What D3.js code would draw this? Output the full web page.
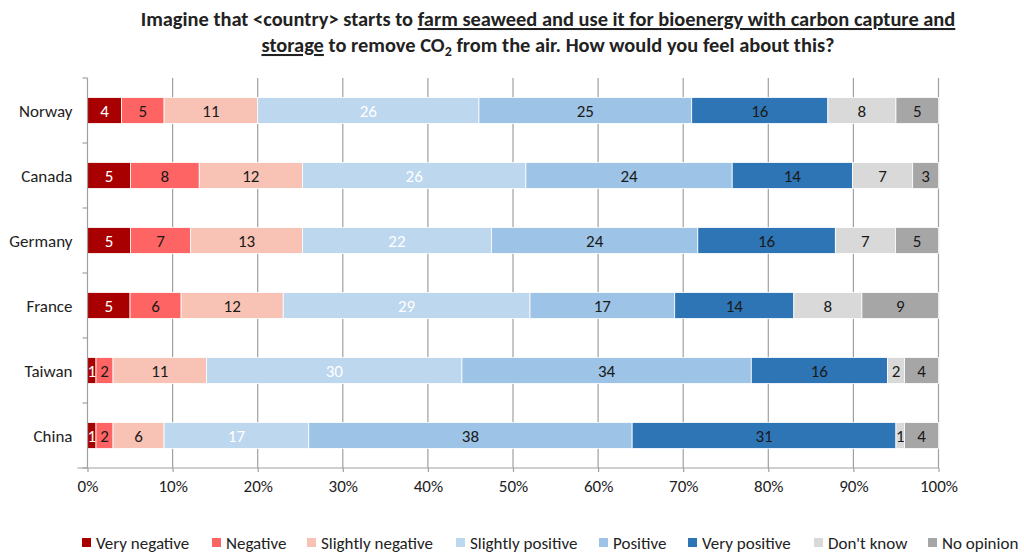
<!DOCTYPE html>
<html>
<head>
<meta charset="utf-8">
<script src="https://cdn.jsdelivr.net/npm/d3@7"></script>
<style>
  html, body { margin: 0; padding: 0; background: #fff; }
  svg { display: block; }
  text { font-family: Carlito, Lato, "Open Sans", sans-serif; fill: #222; }
</style>
</head>
<body>
<svg id="chart" width="1024" height="554"></svg>
<script>
// Survey responses (percent of respondents) per country
const countries = ["Norway", "Canada", "Germany", "France", "Taiwan", "China"];
const responses = ["Very negative", "Negative", "Slightly negative", "Slightly positive",
                   "Positive", "Very positive", "Don't know", "No opinion"];
const veryNegative     = [4, 5, 5, 5, 1, 1];
const negative         = [5, 8, 7, 6, 2, 2];
const slightlyNegative = [11, 12, 13, 12, 11, 6];
const slightlyPositive = [26, 26, 22, 29, 30, 17];
const positive         = [25, 24, 24, 17, 34, 38];
const veryPositive     = [16, 14, 16, 14, 16, 31];
const dontKnow         = [8, 7, 7, 8, 2, 1];
const noOpinion        = [5, 3, 5, 9, 4, 4];
const xTicks = [0, 0.1, 0.2, 0.3, 0.4, 0.5, 0.6, 0.7, 0.8, 0.9, 1];

const seriesValues = [veryNegative, negative, slightlyNegative, slightlyPositive,
                      positive, veryPositive, dontKnow, noOpinion];
const colors = ["#A80000", "#FF6464", "#F8C3B5", "#BDD7EE", "#9DC3E6", "#2E75B6", "#D9D9D9", "#A6A6A6"];
const whiteLabel = ["Very negative", "Slightly positive"];

const rows = countries.map((c, i) => {
  const r = { country: c };
  responses.forEach((k, j) => r[k] = seriesValues[j][i]);
  return r;
});

const svg = d3.select("#chart");
const margin = { left: 87.5, right: 85.5, top: 78, bottom: 86 };
const W = 1024, H = 554;
const FS = "17px";

const x = d3.scaleLinear().domain([0, 1]).range([margin.left, W - margin.right]);
const y = d3.scaleBand().domain(countries).range([margin.top, H - margin.bottom]).paddingInner(0.6).paddingOuter(0.3);
const color = d3.scaleOrdinal().domain(responses).range(colors);

const stacked = d3.stack().keys(responses).offset(d3.stackOffsetExpand)(rows);

// vertical gridlines
svg.append("g")
  .selectAll("line")
  .data(xTicks.slice(1))
  .join("line")
  .attr("x1", d => x(d)).attr("x2", d => x(d))
  .attr("y1", margin.top).attr("y2", H - margin.bottom)
  .attr("stroke", "#a0a0a0").attr("stroke-width", 1.2);

// stacked bars
const layer = svg.append("g")
  .selectAll("g")
  .data(stacked)
  .join("g")
  .attr("fill", d => color(d.key));

layer.selectAll("rect")
  .data(d => d.map(v => Object.assign(v, { key: d.key })))
  .join("rect")
  .attr("x", d => x(d[0]))
  .attr("width", d => x(d[1]) - x(d[0]))
  .attr("y", d => y(d.data.country))
  .attr("height", y.bandwidth())
  .attr("stroke", "#fff")
  .attr("stroke-width", 0.8);

layer.selectAll("text")
  .data(d => d)
  .join("text")
  .attr("x", d => (x(d[0]) + x(d[1])) / 2)
  .attr("y", d => y(d.data.country) + y.bandwidth() / 2)
  .attr("dy", "0.36em")
  .attr("text-anchor", "middle")
  .style("font-size", FS)
  .style("fill", d => whiteLabel.includes(d.key) ? "#fff" : "#1a1a1a")
  .text(d => d.data[d.key]);

// y axis
const yAxis = svg.append("g")
  .attr("transform", `translate(${margin.left},0)`);
yAxis.append("line")
  .attr("x1", 0).attr("x2", 0)
  .attr("y1", margin.top).attr("y2", H - margin.bottom)
  .attr("stroke", "#a0a0a0").attr("stroke-width", 1.2);
const step = y.step();
yAxis.selectAll("line.tick")
  .data(d3.range(countries.length + 1))
  .join("line")
  .attr("class", "tick")
  .attr("x1", -5).attr("x2", 0)
  .attr("y1", i => margin.top + i * step)
  .attr("y2", i => margin.top + i * step)
  .attr("stroke", "#a0a0a0").attr("stroke-width", 1.2);
yAxis.selectAll("text")
  .data(countries)
  .join("text")
  .attr("x", -15)
  .attr("y", d => y(d) + y.bandwidth() / 2)
  .attr("dy", "0.36em")
  .attr("text-anchor", "end")
  .style("font-size", FS)
  .text(d => d);

// x axis
const xAxis = svg.append("g")
  .attr("transform", `translate(0,${H - margin.bottom})`)
  .call(d3.axisBottom(x).tickValues(xTicks).tickFormat(d3.format(".0%")).tickSize(4).tickPadding(8));
xAxis.select(".domain").attr("stroke", "#a0a0a0").attr("stroke-width", 1.2);
xAxis.selectAll(".tick line").attr("stroke", "#a0a0a0").attr("stroke-width", 1.2);
xAxis.selectAll(".tick text")
  .style("font-family", "Carlito, Lato, 'Open Sans', sans-serif")
  .style("font-size", FS).attr("fill", "#222");
xAxis.select(".domain").attr("d", `M${x(0) - 10},0H${x(1)}`);

// title
const TFS = 20.5;
const title = svg.append("text")
  .attr("text-anchor", "middle")
  .attr("x", 548).attr("y", 26)
  .style("font-size", TFS + "px")
  .style("font-weight", "bold");
title.append("tspan").text("Imagine that <country> starts to ");
title.append("tspan").style("text-decoration", "underline")
  .text("farm seaweed and use it for bioenergy with carbon capture and");
const t2 = svg.append("text")
  .attr("text-anchor", "middle")
  .attr("x", 548).attr("y", 52)
  .style("font-size", TFS + "px")
  .style("font-weight", "bold");
t2.append("tspan").style("text-decoration", "underline").text("storage");
t2.append("tspan").text(" to remove CO");
t2.append("tspan").attr("dy", 4).style("font-size", "14px").text("2");
t2.append("tspan").attr("dy", -4).text(" from the air. How would you feel about this?");

// keep the first heading line within its span
const w1 = title.node().getComputedTextLength();
if (w1 > 815) {
  const f = (TFS * 815 / w1).toFixed(2) + "px";
  title.style("font-size", f);
  t2.style("font-size", f);
}

// legend
const legendX = [82, 212, 307, 456, 599, 688, 814, 928];
const legend = svg.append("g")
  .selectAll("g")
  .data(responses)
  .join("g")
  .attr("transform", (d, i) => `translate(${legendX[i]},538)`);
legend.append("rect")
  .attr("width", 9).attr("height", 9)
  .attr("fill", d => color(d));
legend.append("text")
  .attr("x", 14).attr("y", 4.5)
  .attr("dy", "0.36em")
  .style("font-size", FS)
  .text(d => d);
</script>
</body>
</html>
